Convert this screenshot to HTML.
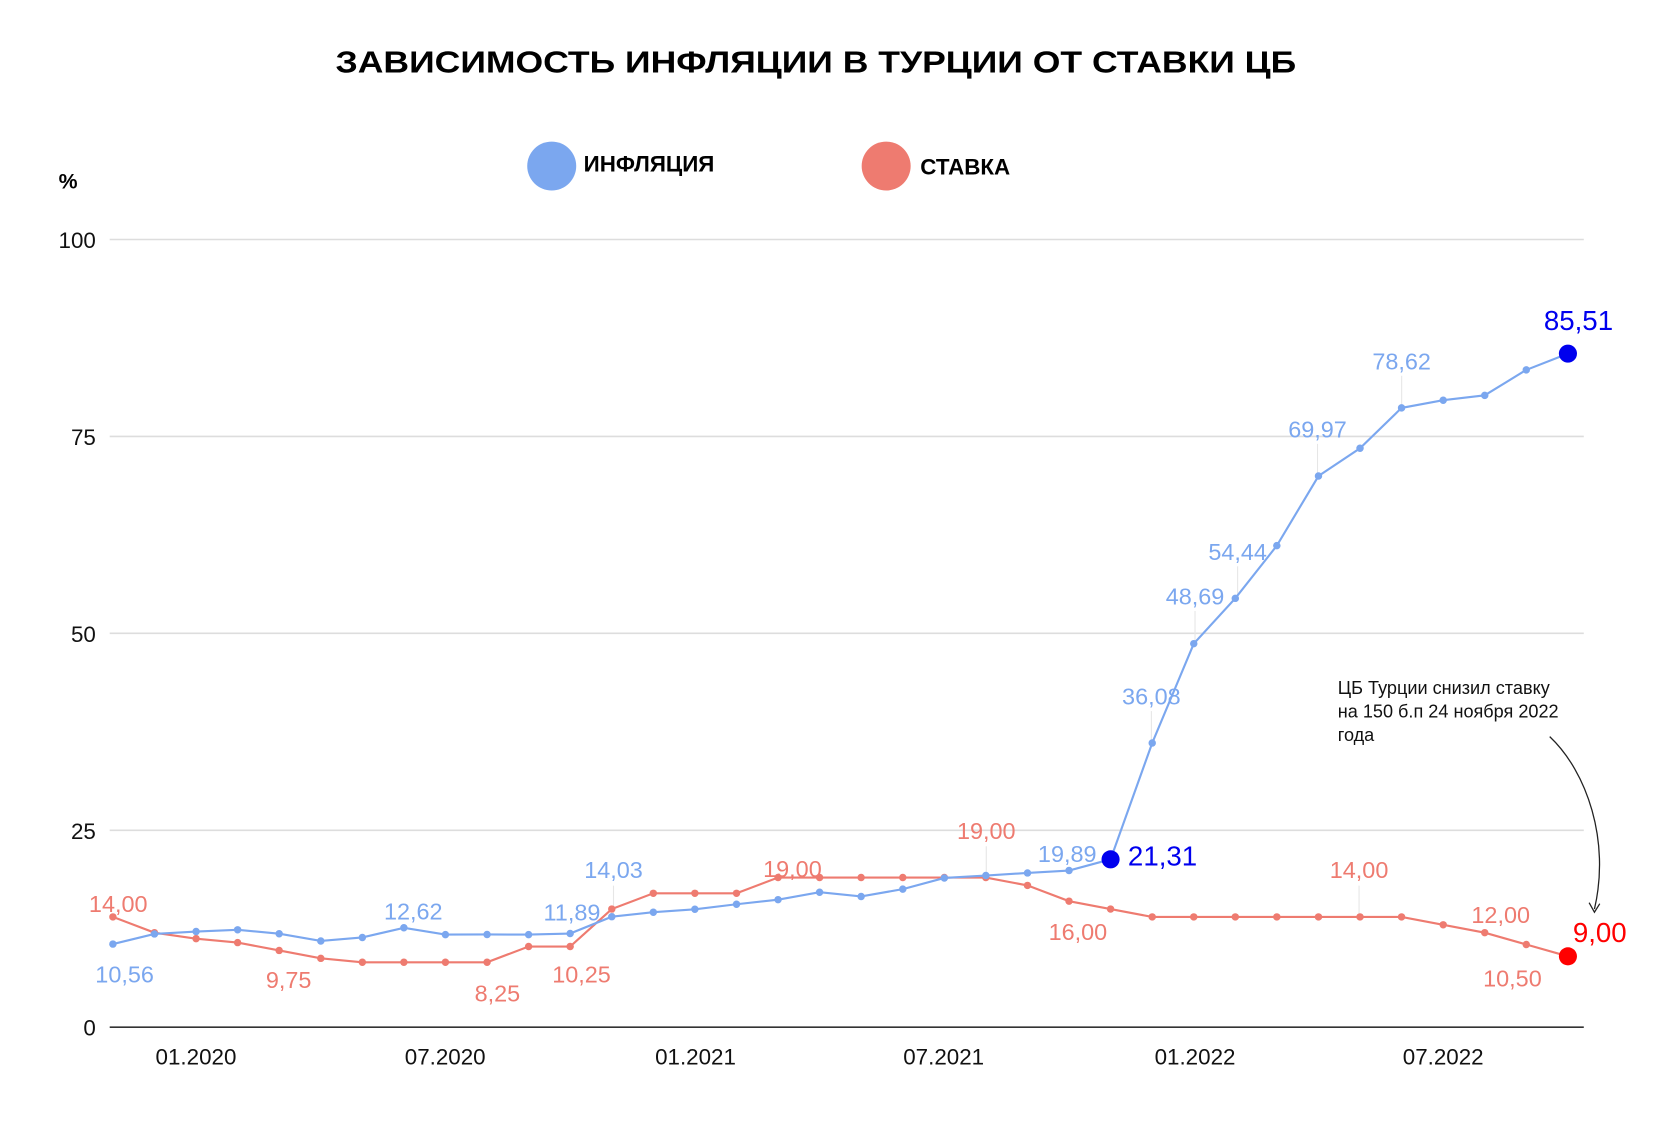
<!DOCTYPE html>
<html><head><meta charset="utf-8"><style>html,body{margin:0;padding:0;background:#fff}svg{display:block}</style></head>
<body>
<svg width="1669" height="1123" viewBox="0 0 1567 1055" preserveAspectRatio="none" xmlns="http://www.w3.org/2000/svg" font-family="Liberation Sans, sans-serif">
<rect width="1567" height="1055" fill="#fff"/>
<text x="766" y="68" text-anchor="middle" font-size="29" font-weight="bold" textLength="902" lengthAdjust="spacingAndGlyphs">ЗАВИСИМОСТЬ ИНФЛЯЦИИ В ТУРЦИИ ОТ СТАВКИ ЦБ</text>
<circle cx="518" cy="156" r="23" fill="#7ba7ef"/>
<text x="548" y="161" font-size="21" font-weight="bold">ИНФЛЯЦИЯ</text>
<circle cx="832" cy="156" r="23" fill="#ee7b70"/>
<text x="864" y="164" font-size="21" font-weight="bold">СТАВКА</text>
<text x="55" y="177" font-size="20" font-weight="bold">%</text>
<g stroke="#dddddd" stroke-width="1.5">
<line x1="103" y1="225" x2="1487" y2="225"/><line x1="103" y1="410" x2="1487" y2="410"/><line x1="103" y1="595" x2="1487" y2="595"/><line x1="103" y1="780" x2="1487" y2="780"/>
</g>
<line x1="103" y1="965" x2="1487" y2="965" stroke="#333" stroke-width="1.5"/>
<g font-size="21" text-anchor="end" fill="#111">
<text x="90" y="233">100</text><text x="90" y="418">75</text><text x="90" y="603">50</text><text x="90" y="788">25</text><text x="90" y="973">0</text>
</g>
<g font-size="21" text-anchor="middle" fill="#111">
<text x="184" y="1000">01.2020</text><text x="418" y="1000">07.2020</text><text x="653" y="1000">01.2021</text><text x="886" y="1000">07.2021</text><text x="1122" y="1000">01.2022</text><text x="1355" y="1000">07.2022</text>
</g>
<g stroke="#e6e6e6" stroke-width="1">
<line x1="576" y1="832" x2="576" y2="860"/><line x1="926" y1="795" x2="926" y2="823"/><line x1="1081" y1="668" x2="1081" y2="697"/><line x1="1122" y1="574" x2="1122" y2="603"/><line x1="1162" y1="532" x2="1162" y2="560"/><line x1="1237" y1="417" x2="1237" y2="446"/><line x1="1316" y1="353" x2="1316" y2="382"/><line x1="1276" y1="832" x2="1276" y2="860"/>
</g>
<polyline fill="none" stroke="#ee7b70" stroke-width="2" points="106,861.4 145,876.2 184.1,881.8 223.1,885.5 262.1,892.9 301.2,900.3 340.2,904 379.2,904 418.2,904 457.3,904 496.3,889.2 535.3,889.2 574.4,854 613.4,839.2 652.4,839.2 691.5,839.2 730.5,824.4 769.5,824.4 808.5,824.4 847.6,824.4 886.6,824.4 925.6,824.4 964.7,831.8 1003.7,846.6 1042.7,854 1081.8,861.4 1120.8,861.4 1159.8,861.4 1198.8,861.4 1237.9,861.4 1276.9,861.4 1315.9,861.4 1355,868.8 1394,876.2 1433,887.3 1472.1,898.4"/>
<g fill="#ee7b70">
<circle cx="106" cy="861.4" r="3.5"/><circle cx="145" cy="876.2" r="3.5"/><circle cx="184.1" cy="881.8" r="3.5"/><circle cx="223.1" cy="885.5" r="3.5"/><circle cx="262.1" cy="892.9" r="3.5"/><circle cx="301.2" cy="900.3" r="3.5"/><circle cx="340.2" cy="904" r="3.5"/><circle cx="379.2" cy="904" r="3.5"/><circle cx="418.2" cy="904" r="3.5"/><circle cx="457.3" cy="904" r="3.5"/><circle cx="496.3" cy="889.2" r="3.5"/><circle cx="535.3" cy="889.2" r="3.5"/><circle cx="574.4" cy="854" r="3.5"/><circle cx="613.4" cy="839.2" r="3.5"/><circle cx="652.4" cy="839.2" r="3.5"/><circle cx="691.5" cy="839.2" r="3.5"/><circle cx="730.5" cy="824.4" r="3.5"/><circle cx="769.5" cy="824.4" r="3.5"/><circle cx="808.5" cy="824.4" r="3.5"/><circle cx="847.6" cy="824.4" r="3.5"/><circle cx="886.6" cy="824.4" r="3.5"/><circle cx="925.6" cy="824.4" r="3.5"/><circle cx="964.7" cy="831.8" r="3.5"/><circle cx="1003.7" cy="846.6" r="3.5"/><circle cx="1042.7" cy="854" r="3.5"/><circle cx="1081.8" cy="861.4" r="3.5"/><circle cx="1120.8" cy="861.4" r="3.5"/><circle cx="1159.8" cy="861.4" r="3.5"/><circle cx="1198.8" cy="861.4" r="3.5"/><circle cx="1237.9" cy="861.4" r="3.5"/><circle cx="1276.9" cy="861.4" r="3.5"/><circle cx="1315.9" cy="861.4" r="3.5"/><circle cx="1355" cy="868.8" r="3.5"/><circle cx="1394" cy="876.2" r="3.5"/><circle cx="1433" cy="887.3" r="3.5"/>
</g>
<circle cx="1472.1" cy="898.4" r="8.5" fill="#ff0000"/>
<polyline fill="none" stroke="#7ba7ef" stroke-width="2" points="106,886.9 145,877.4 184.1,875.1 223.1,873.5 262.1,877.2 301.2,884 340.2,880.7 379.2,871.6 418.2,878 457.3,877.9 496.3,878 535.3,877 574.4,861.2 613.4,857 652.4,854.2 691.5,849.5 730.5,845.2 769.5,838.2 808.5,842.2 847.6,835.3 886.6,824.8 925.6,822.5 964.7,820.1 1003.7,817.8 1042.7,807.3 1081.8,698 1120.8,604.7 1159.8,562.1 1198.8,512.6 1237.9,447.2 1276.9,421.1 1315.9,383.2 1355,376 1394,371.4 1433,347.5 1472.1,332.2"/>
<g fill="#7ba7ef">
<circle cx="106" cy="886.9" r="3.5"/><circle cx="145" cy="877.4" r="3.5"/><circle cx="184.1" cy="875.1" r="3.5"/><circle cx="223.1" cy="873.5" r="3.5"/><circle cx="262.1" cy="877.2" r="3.5"/><circle cx="301.2" cy="884" r="3.5"/><circle cx="340.2" cy="880.7" r="3.5"/><circle cx="379.2" cy="871.6" r="3.5"/><circle cx="418.2" cy="878" r="3.5"/><circle cx="457.3" cy="877.9" r="3.5"/><circle cx="496.3" cy="878" r="3.5"/><circle cx="535.3" cy="877" r="3.5"/><circle cx="574.4" cy="861.2" r="3.5"/><circle cx="613.4" cy="857" r="3.5"/><circle cx="652.4" cy="854.2" r="3.5"/><circle cx="691.5" cy="849.5" r="3.5"/><circle cx="730.5" cy="845.2" r="3.5"/><circle cx="769.5" cy="838.2" r="3.5"/><circle cx="808.5" cy="842.2" r="3.5"/><circle cx="847.6" cy="835.3" r="3.5"/><circle cx="886.6" cy="824.8" r="3.5"/><circle cx="925.6" cy="822.5" r="3.5"/><circle cx="964.7" cy="820.1" r="3.5"/><circle cx="1003.7" cy="817.8" r="3.5"/><circle cx="1081.8" cy="698" r="3.5"/><circle cx="1120.8" cy="604.7" r="3.5"/><circle cx="1159.8" cy="562.1" r="3.5"/><circle cx="1198.8" cy="512.6" r="3.5"/><circle cx="1237.9" cy="447.2" r="3.5"/><circle cx="1276.9" cy="421.1" r="3.5"/><circle cx="1315.9" cy="383.2" r="3.5"/><circle cx="1355" cy="376" r="3.5"/><circle cx="1394" cy="371.4" r="3.5"/><circle cx="1433" cy="347.5" r="3.5"/>
</g>
<circle cx="1042.7" cy="807.3" r="8.5" fill="#0000ee"/>
<circle cx="1472.1" cy="332.2" r="8.5" fill="#0000ee"/>
<g font-size="22" text-anchor="middle" fill="#7ba7ef">
<text x="117" y="923">10,56</text><text x="388" y="864">12,62</text><text x="537" y="865">11,89</text><text x="576" y="825">14,03</text><text x="1002" y="810">19,89</text><text x="1081" y="662">36,08</text><text x="1122" y="568">48,69</text><text x="1162" y="526">54,44</text><text x="1237" y="411">69,97</text><text x="1316" y="347">78,62</text>
</g>
<g font-size="22" text-anchor="middle" fill="#ee7b70">
<text x="111" y="857">14,00</text><text x="271" y="928">9,75</text><text x="467" y="941">8,25</text><text x="546" y="923">10,25</text><text x="744" y="824">19,00</text><text x="926" y="788">19,00</text><text x="1012" y="883">16,00</text><text x="1276" y="825">14,00</text><text x="1409" y="867">12,00</text><text x="1420" y="927">10,50</text>
</g>
<text x="1059" y="813" font-size="26" fill="#0000ee">21,31</text>
<text x="1482" y="310" font-size="26" fill="#0000ee" text-anchor="middle">85,51</text>
<text x="1502" y="885" font-size="26" fill="#ff0000" text-anchor="middle">9,00</text>
<g font-size="17" fill="#111">
<text x="1256" y="652">ЦБ Турции  снизил ставку</text><text x="1256" y="674">на 150 б.п 24 ноября 2022</text><text x="1256" y="696">года</text>
</g>
<path d="M1455,692 C1490,725 1512,790 1497,854" fill="none" stroke="#222" stroke-width="1.2"/>
<path d="M1492,848 L1497,857 L1502,849" fill="none" stroke="#222" stroke-width="1.2"/>
</svg>
</body></html>
